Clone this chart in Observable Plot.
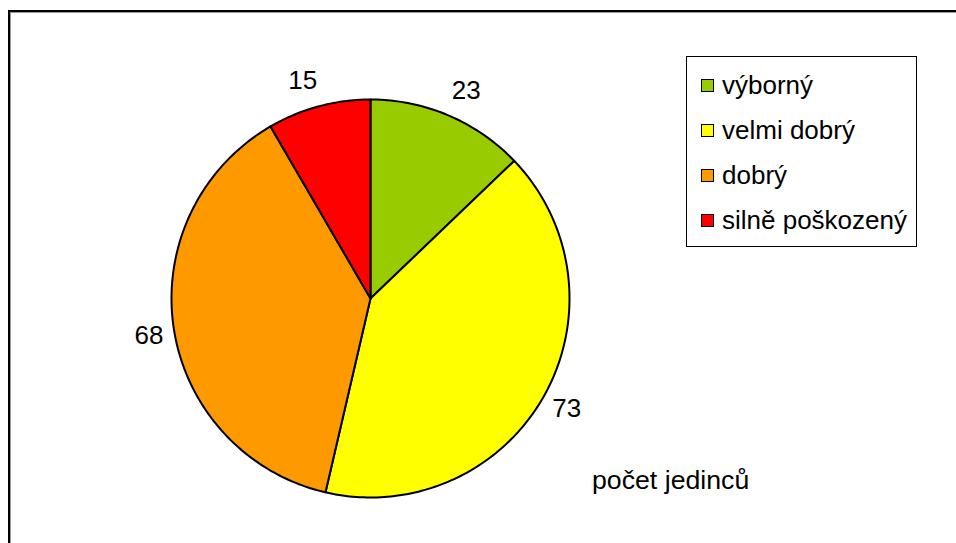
<!DOCTYPE html>
<html><head><meta charset="utf-8">
<script src="https://cdn.jsdelivr.net/npm/d3@7"></script>
<script src="https://cdn.jsdelivr.net/npm/@observablehq/plot@0.6"></script>
<style>
body{margin:0;background:#fff;font-family:"Liberation Sans",Arial,sans-serif;}
#wrap{position:relative;width:956px;height:543px;overflow:hidden;background:#fff;}
#frame{position:absolute;left:8px;top:10px;width:1000px;height:600px;border-top:2px solid #000;border-left:2px solid #000;box-shadow:1px 1px 0 #999 inset;}
#legend{position:absolute;left:686px;top:56px;width:229px;height:189px;border:1.5px solid #000;background:#fff;}
.item{position:absolute;left:0;height:30px;display:flex;align-items:center;font-size:26px;color:#000;white-space:nowrap;}
.sw{display:inline-block;width:11px;height:11px;border:1.5px solid #000;margin-left:14px;margin-right:8px;}
#sname{position:absolute;font-size:26.7px;color:#000;white-space:nowrap;}
#chart{position:absolute;left:0;top:0;}
</style></head><body>
<div id="wrap"><div id="frame"></div><div id="chart"></div><div id="legend"></div><div id="sname"></div></div>
<script>
const categories = ["výborný", "velmi dobrý", "dobrý", "silně poškozený"];
const values = [23, 73, 68, 15];
const colors = ["#99CC00", "#FFFF00", "#FF9900", "#FF0000"];
const seriesName = "počet jedinců";

const data = categories.map((c, i) => ({category: c, value: values[i]}));
const arcs = d3.pie().sort(null).value(d => d.value)(data);

// slice polygons in unit-circle data space (angle 0 at top, clockwise)
const slicePts = [];
arcs.forEach(a => {
  const c = a.data.category;
  slicePts.push({category: c, x: 0, y: 0});
  const n = Math.max(2, Math.ceil((a.endAngle - a.startAngle) / (Math.PI / 180)));
  for (let k = 0; k <= n; k++) {
    const t = a.startAngle + (a.endAngle - a.startAngle) * k / n;
    slicePts.push({category: c, x: Math.sin(t), y: Math.cos(t)});
  }
  slicePts.push({category: c, x: 0, y: 0});
});

const labels = arcs.map(a => {
  const m = (a.startAngle + a.endAngle) / 2;
  const s = Math.sin(m), co = Math.cos(m);
  return {
    text: String(a.data.value),
    x: 1.06 * s + Math.sign(s) * 0.065,
    y: 1.06 * co + Math.sign(co) * 0.05
  };
});

const chart = Plot.plot({
  width: 956,
  height: 543,
  margin: 0,
  x: {domain: [-1, 1], range: [171, 569], axis: null},
  y: {domain: [-1, 1], range: [497, 99], axis: null},
  color: {domain: categories, range: colors, type: "ordinal"},
  style: {background: "transparent", fontFamily: "Liberation Sans, Arial, sans-serif"},
  marks: [
    Plot.line(slicePts, {x: "x", y: "y", z: "category", fill: "category", stroke: "#000", strokeWidth: 2, strokeLinejoin: "round"}),
    Plot.text(labels, {x: "x", y: "y", text: "text", fontSize: 26, fill: "#000", textAnchor: "middle", lineAnchor: "middle", dy: -4})
  ]
});
document.getElementById("chart").appendChild(chart);

const leg = document.getElementById("legend");
categories.forEach((c, i) => {
  const it = document.createElement("div");
  it.className = "item";
  it.style.top = (13 + 45 * i) + "px";
  const sw = document.createElement("span");
  sw.className = "sw";
  sw.style.background = chart.scale("color").apply(c);
  it.appendChild(sw);
  it.appendChild(document.createTextNode(c));
  leg.appendChild(it);
});

const sn = document.getElementById("sname");
sn.textContent = seriesName;
sn.style.left = "592px";
sn.style.top = "465px";
</script>
</body></html>
